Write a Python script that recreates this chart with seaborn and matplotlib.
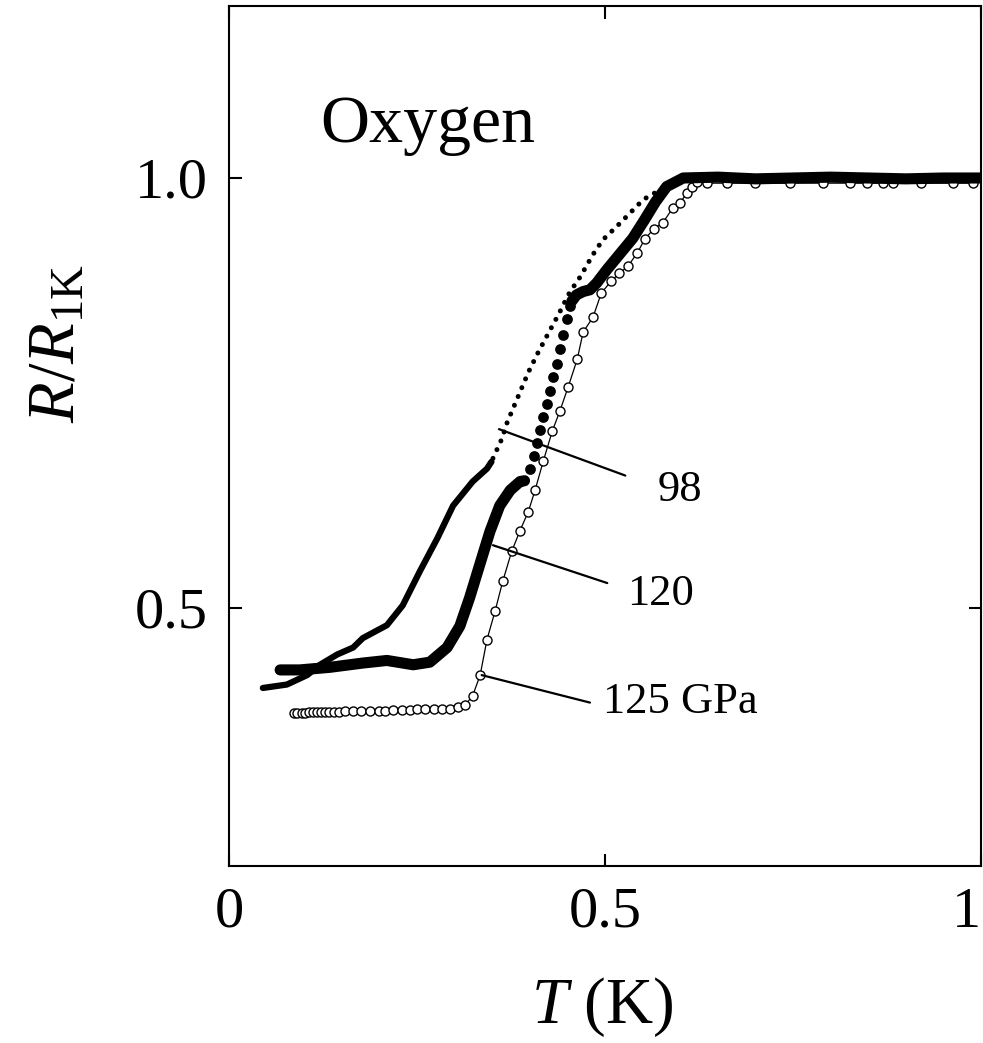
import numpy as np
import pandas as pd
import seaborn as sns
import matplotlib.pyplot as plt

# --- data: T (K) and R/R_1K ---

# 98 GPa: dense trace at low T, then sparse dots after the jump
t98_line = [0.045, 0.077, 0.104, 0.121, 0.144, 0.165, 0.178, 0.210, 0.231, 0.254,
            0.277, 0.298, 0.324, 0.343, 0.349]
r98_line = [0.407, 0.411, 0.422, 0.434, 0.446, 0.454, 0.465, 0.480, 0.503, 0.543,
            0.581, 0.619, 0.647, 0.662, 0.670]
t98_dots = [0.351, 0.363, 0.370, 0.385, 0.398, 0.411, 0.425, 0.438, 0.453, 0.467,
            0.484, 0.497, 0.516, 0.533, 0.551, 0.573, 0.604]
r98_dots = [0.674, 0.697, 0.716, 0.747, 0.774, 0.797, 0.820, 0.841, 0.867, 0.885,
            0.911, 0.928, 0.944, 0.959, 0.975, 0.986, 1.000]

# 120 GPa: thick band at low T, single filled points in the middle, band again on top
t120_band = [0.068, 0.094, 0.134, 0.178, 0.210, 0.245, 0.267, 0.290, 0.307, 0.320,
             0.334, 0.347, 0.360, 0.374, 0.387, 0.393]
r120_band = [0.428, 0.428, 0.431, 0.436, 0.439, 0.434, 0.437, 0.454, 0.479, 0.512,
             0.552, 0.589, 0.619, 0.637, 0.647, 0.648]
t120_dots = [0.400, 0.406, 0.410, 0.414, 0.418, 0.423, 0.427, 0.431, 0.436, 0.440,
             0.444, 0.449, 0.453]
r120_dots = [0.662, 0.677, 0.692, 0.707, 0.722, 0.737, 0.752, 0.769, 0.784, 0.801,
             0.818, 0.836, 0.851]
t120_top = [0.456, 0.462, 0.471, 0.480, 0.489, 0.503, 0.520, 0.537, 0.553, 0.567,
            0.582, 0.604, 0.650, 0.700, 0.750, 0.800, 0.850, 0.900, 0.950, 1.000]
r120_top = [0.857, 0.864, 0.868, 0.870, 0.878, 0.894, 0.912, 0.930, 0.952, 0.972,
            0.990, 1.000, 1.001, 0.999, 1.000, 1.001, 1.000, 0.999, 1.000, 1.000]

# 125 GPa: open circles joined by a thin line
t125 = [0.086, 0.090, 0.097, 0.101, 0.106, 0.112, 0.117, 0.122, 0.128, 0.133,
        0.140, 0.146, 0.154, 0.165, 0.176, 0.188, 0.199, 0.207, 0.218, 0.230,
        0.241, 0.250, 0.261, 0.272, 0.283, 0.294, 0.305, 0.314, 0.324, 0.334,
        0.343, 0.354, 0.364, 0.376, 0.387, 0.398, 0.407, 0.418, 0.430, 0.440,
        0.451, 0.463, 0.471, 0.484, 0.495, 0.508, 0.519, 0.531, 0.543, 0.553,
        0.565, 0.577, 0.590, 0.600, 0.609, 0.616, 0.622, 0.636, 0.662, 0.700,
        0.746, 0.790, 0.826, 0.848, 0.870, 0.883, 0.920, 0.963, 0.990]
r125 = [0.378, 0.378, 0.378, 0.378, 0.379, 0.379, 0.379, 0.379, 0.379, 0.379,
        0.379, 0.379, 0.380, 0.380, 0.380, 0.380, 0.380, 0.380, 0.381, 0.381,
        0.381, 0.382, 0.382, 0.382, 0.382, 0.383, 0.385, 0.387, 0.398, 0.422,
        0.463, 0.497, 0.531, 0.566, 0.590, 0.612, 0.637, 0.671, 0.706, 0.729,
        0.757, 0.789, 0.821, 0.838, 0.866, 0.880, 0.889, 0.898, 0.913, 0.929,
        0.941, 0.948, 0.965, 0.971, 0.983, 0.990, 0.995, 0.994, 0.994, 0.994,
        0.994, 0.994, 0.994, 0.994, 0.994, 0.994, 0.994, 0.994, 0.994]

# curve labels: text, text anchor, leader line (curve end -> label end)
labels = ['98', '120', '125 GPa']
label_pos = [(0.570, 0.624), (0.529, 0.503), (0.497, 0.378)]
leaders = [((0.359, 0.527), (0.708, 0.654)),
           ((0.351, 0.503), (0.573, 0.529)),
           ((0.336, 0.480), (0.422, 0.390))]

# --- style ---
sns.set_theme(style='ticks')
plt.rcParams['font.family'] = ['Liberation Serif', 'DejaVu Serif']
plt.rcParams['mathtext.fontset'] = 'custom'
plt.rcParams['mathtext.rm'] = 'Liberation Serif'
plt.rcParams['mathtext.it'] = 'Liberation Serif:italic'
plt.rcParams['text.color'] = 'black'
plt.rcParams['axes.labelcolor'] = 'black'

fig = plt.figure(figsize=(9.83, 10.43), dpi=100)
ax = fig.add_axes([229 / 983, 1 - 866 / 1043, 752 / 983, 860 / 1043])

# 125 GPa first, so the filled curves sit on top of it on the plateau
sns.lineplot(x=t125, y=r125, ax=ax, sort=False, estimator=None, color='black',
             lw=0.9, marker='o', markersize=6.5, markerfacecolor='white',
             markeredgecolor='black', markeredgewidth=1.0)

# 98 GPa
sns.lineplot(x=t98_line, y=r98_line, ax=ax, sort=False, estimator=None,
             color='black', lw=4.5, solid_capstyle='round')
dots = sns.lineplot(x=t98_dots, y=r98_dots, ax=ax, sort=False, estimator=None,
                    color='black', lw=3.6).lines[-1]
dots.set_linestyle((0, (0.01, 1.9)))
dots.set_dash_capstyle('round')

# 120 GPa
sns.lineplot(x=t120_band, y=r120_band, ax=ax, sort=False, estimator=None,
             color='black', lw=8, solid_capstyle='round')
sns.scatterplot(x=t120_dots, y=r120_dots, ax=ax, color='black', s=60, linewidth=0)
sns.lineplot(x=t120_top, y=r120_top, ax=ax, sort=False, estimator=None,
             color='black', lw=8, solid_capstyle='round')

for (xs, ys) in leaders:
    ax.plot(xs, ys, color='black', lw=1.6)
for txt, (x, y) in zip(labels, label_pos):
    ax.text(x, y, txt, fontsize=32, ha='left', va='baseline')

ax.text(0.121, 1.042, 'Oxygen', fontsize=49, ha='left', va='baseline')

ax.set_xlim(0, 1)
ax.set_ylim(0.2, 1.2)
ax.set_xticks([0, 0.5, 1])
ax.set_xticklabels(['0', '0.5', '1'])
ax.get_xticklabels()[-1].set_horizontalalignment('right')
ax.set_yticks([0.5, 1.0])
ax.set_yticklabels(['0.5', '1.0'])
ax.tick_params(direction='in', length=9, width=1.5, top=True, right=True,
               labelsize=42, pad=15, color='black', labelcolor='black')
for side in ax.spines.values():
    side.set_linewidth(1.5)
    side.set_color('black')

ax.set_xlabel(r'$T$ (K)', fontsize=47)
ax.xaxis.set_label_coords(0.496, -0.164)
ax.xaxis.label.set_va('center')
ax.set_ylabel(r'$R/R_{\rm 1K}$', fontsize=48)
ax.yaxis.set_label_coords(-0.227, 0.607)
ax.yaxis.label.set_va('center')

fig.savefig('out.png', dpi=100, facecolor='white')
